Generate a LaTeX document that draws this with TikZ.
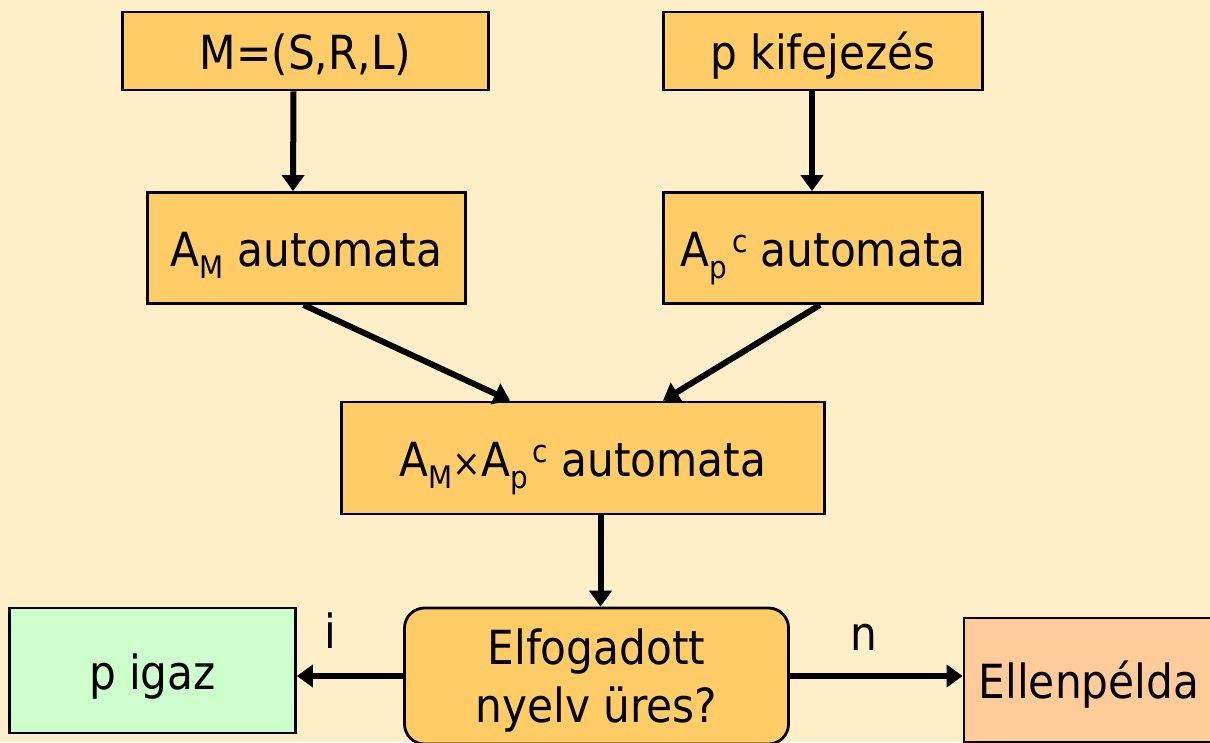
\documentclass[tikz,border=0pt]{standalone}
\usepackage{fontspec}
\setmainfont{DejaVu Sans Condensed}
\usetikzlibrary{arrows.meta}
\definecolor{bg}{HTML}{FFEFC9}
\definecolor{boxfill}{HTML}{FFCC66}
\definecolor{yesfill}{HTML}{CCFFCC}
\definecolor{nofill}{HTML}{FFCC99}
% lowered and raised indices in the text font
\newcommand{\lowidx}[1]{\raisebox{-0.26em}{\fontsize{31}{31}\selectfont #1}}
\newcommand{\hiidx}[1]{\kern5pt\raisebox{0.30em}{\fontsize{31}{31}\selectfont #1}}
\newcommand{\crossop}{{\fontsize{38}{38}\selectfont ×}}
\begin{document}
\begin{tikzpicture}[x=1pt, y=-1pt,
  every node/.style={font=\fontsize{47}{58}\selectfont, inner sep=0pt,
                     text height=37pt, text depth=0pt},
  framed/.style={draw, line width=2.8pt},
  stepbox/.style={framed, fill=boxfill},
  flowarrow/.style={line width=6pt, -{Triangle[length=16pt,width=22pt]}},
]
\useasboundingbox (0,0) rectangle (1210,742);
\fill[bg] (0,0) rectangle (1210,742);

% input boxes
\node[stepbox, minimum width=366pt, minimum height=78pt] (m)  at (305.5,51) {M=(S,R,L)};
\node[stepbox, minimum width=319pt, minimum height=78pt] (pk) at (823,51) {p kifejezés};

% automata
\node[stepbox, minimum width=318pt, minimum height=111pt] (am) at (306.5,248) {A\lowidx{M} automata};
\node[stepbox, minimum width=319pt, minimum height=111pt] (ap) at (823,248) {A\lowidx{p}\hiidx{c} automata};
\node[stepbox, minimum width=483pt, minimum height=112pt] (prod) at (583,458) {A\lowidx{M}\crossop A\lowidx{p}\hiidx{c} automata};

% decision (two lines: last baseline sits 46pt below the centre)
\node[stepbox, rounded corners=20pt, minimum width=384pt, minimum height=136pt,
      align=center, text height=92pt, text depth=0pt] (q) at (596.5,676) {Elfogadott\\nyelv üres?};

% outcomes
\node[framed, fill=yesfill, minimum width=286pt, minimum height=125pt] (yes) at (152.5,670.5) {p igaz};
\node[framed, fill=nofill, minimum width=250pt, minimum height=124pt] (no) at (1089,680) {Ellenpélda};

% connectors
\draw[flowarrow] ([xshift=-12pt]m.south) -- ([xshift=-13.5pt]am.north);
\draw[flowarrow] ([xshift=-11pt]pk.south) -- ([xshift=-11pt]ap.north);
\draw[flowarrow] ([xshift=-3pt]am.south) -- ([xshift=-73pt]prod.north);
\draw[flowarrow] ([xshift=-3pt]ap.south) -- ([xshift=80pt]prod.north);
\draw[flowarrow] ([xshift=17.5pt]prod.south) -- ([xshift=4pt]q.north);
\draw[flowarrow] (q.west) -- (q.west -| yes.east);
\draw[flowarrow] (q.east) -- (q.east -| no.west);

% branch labels
\node (li) at (330,630) {i};
\node (ln) at (864,632) {n};
\end{tikzpicture}
\end{document}
